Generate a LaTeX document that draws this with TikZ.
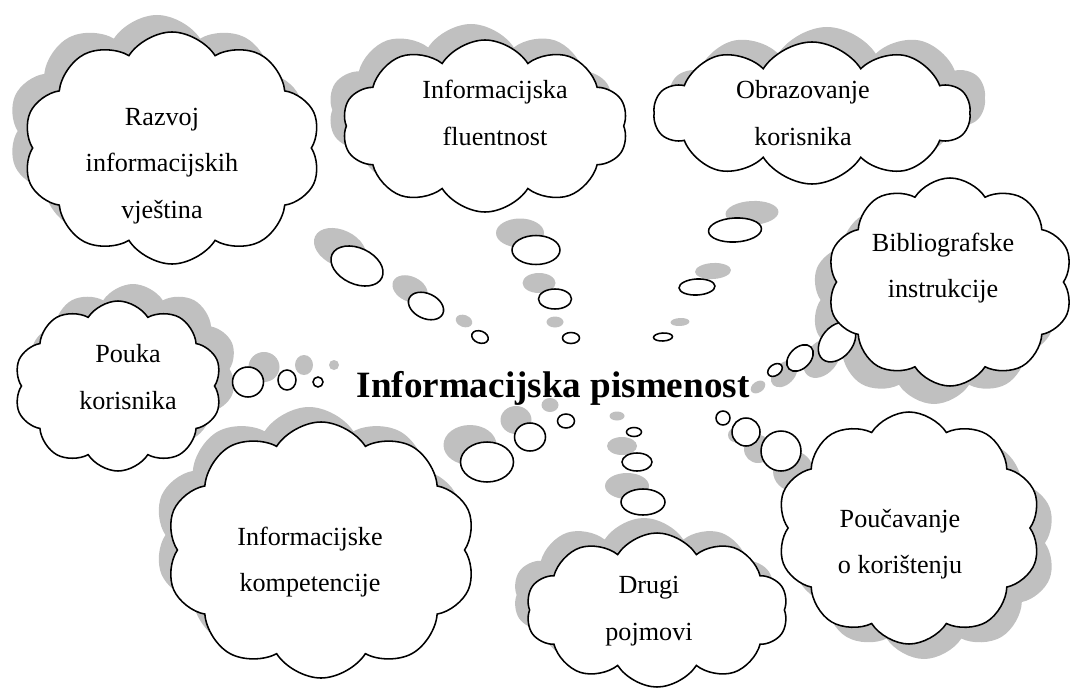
\documentclass[tikz,border=0pt]{standalone}
\usepackage{fontspec}
\setmainfont{Liberation Serif}
\usetikzlibrary{shapes,positioning}
\definecolor{shadegray}{RGB}{192,192,192}
\tikzset{
  thought/.style={cloud, cloud puffs=10, cloud puff arc=115, cloud ignores aspect,
    draw=black, line width=1.1pt, fill=white, inner sep=0pt},
  thoughtshade/.style={cloud, cloud puffs=10, cloud puff arc=115, cloud ignores aspect,
    fill=shadegray, inner sep=0pt},
  thoughttext/.style={align=center, inner sep=0pt, font=\fontsize{18.6}{33}\selectfont},
  puff/.style={ellipse, draw=black, line width=1.1pt, fill=white, inner sep=0pt},
  puffshade/.style={ellipse, fill=shadegray, inner sep=0pt}
}
% bubbles: x/y/width/height/rotation/shadow dx/shadow dy (pixels)
\def\puffs{357/266/55/36/-25/-17/-18, 426/306/37/25/-25/-16/-17, 480/337/17/12/-20/-16/-16,
  536/250/48/29/0/-16/-17, 555/299/33/20/0/-16/-16, 571/338/17/11/0/-16/-16,
  735/230/53/24/3/17/-17, 697/287/36/16/3/16/-16, 663/337/19/8/3/17/-15,
  775/370/16/11/35/-17/17, 800/358/31/21/45/-16/16, 837/342/45/31/50/-15/16,
  248/382/31/30/0/16/-15, 287/380/18/20/0/17/-15, 318/382/10/10/0/16/-17,
  566/421/17/14/0/-16/-16, 530/437/31/28/0/-14/-17, 487/462/53/40/0/-17/-17,
  634/432/15/9/0/-17/-16, 637/462/30/18/0/-15/-16, 643/502/44/26/0/-16/-16,
  723/418/14/14/0/12/17, 746/432/28/28/0/12/17, 781/451/40/40/0/12/20}
\begin{document}
\begin{tikzpicture}[x=0.25mm,y=-0.25mm]
    \useasboundingbox (0,0) rectangle (1072,688);

    % Shadows of the clouds
    \node[thoughtshade, minimum width=74.5mm, minimum height=58mm] (razvoj-sh) at (157,131) {};
    \node[thoughtshade, minimum width=71.5mm, minimum height=43mm] (fluent-sh) at (471,110) {};
    \node[thoughtshade, minimum width=79mm, minimum height=35.5mm] (obraz-sh) at (827,98) {};
    \node[thoughtshade, minimum width=61.5mm, minimum height=52mm] (biblio-sh) at (934,300) {};
    \node[thoughtshade, minimum width=52mm, minimum height=42.5mm] (pouka-sh) at (133,369) {};
    \node[thoughtshade, minimum width=77.5mm, minimum height=64mm] (kompet-sh) at (309,535) {};
    \node[thoughtshade, minimum width=65.5mm, minimum height=38.5mm] (drugi-sh) at (644,595) {};
    \node[thoughtshade, minimum width=66mm, minimum height=58mm] (poucav-sh) at (924,543) {};

    % Shadows of the bubbles
    \foreach \x/\y/\w/\h/\r/\dx/\dy [count=\i] in \puffs
        \node[puffshade, minimum width=\w*0.25mm, minimum height=\h*0.25mm, rotate=\r]
            (puff\i-sh) at ({\x+(\dx)},{\y+(\dy)}) {};

    % Bubbles
    \foreach \x/\y/\w/\h/\r/\dx/\dy [count=\i] in \puffs
        \node[puff, minimum width=\w*0.25mm, minimum height=\h*0.25mm, rotate=\r]
            (puff\i) at (\x,\y) {};

    % Clouds
    \node[thought, minimum width=74.5mm, minimum height=58mm] (razvoj) at (172,148) {};
    \node[thought, minimum width=71.5mm, minimum height=43mm] (fluent) at (485,126) {};
    \node[thought, minimum width=79mm, minimum height=35.5mm] (obraz) at (812,113) {};
    \node[thought, minimum width=61.5mm, minimum height=52mm] (biblio) at (950,282) {};
    \node[thought, minimum width=52mm, minimum height=42.5mm] (pouka) at (118,386) {};
    \node[thought, minimum width=77.5mm, minimum height=64mm] (kompet) at (321,550) {};
    \node[thought, minimum width=65.5mm, minimum height=38.5mm] (drugi) at (657,610) {};
    \node[thought, minimum width=66mm, minimum height=58mm] (poucav) at (909,528) {};

    % Texts in the clouds
    \node[thoughttext] (razvoj-txt) at (162,166) {Razvoj\\informacijskih\\vještina};
    \node[thoughttext] (fluent-txt) at (495,113) {Informacijska\\fluentnost};
    \node[thoughttext] (obraz-txt) at (803,113) {Obrazovanje\\korisnika};
    \node[thoughttext] (biblio-txt) at (943,268) {Bibliografske\\instrukcije};
    \node[thoughttext] (pouka-txt) at (128,377) {Pouka\\korisnika};
    \node[thoughttext] (kompet-txt) at (310,562) {Informacijske\\kompetencije};
    \node[thoughttext] (drugi-txt) at (649,611) {Drugi\\pojmovi};
    \node[thoughttext] (poucav-txt) at (900,544) {Poučavanje\\o korištenju};

    % Central term
    \node[font=\fontsize{26.4}{30}\selectfont\bfseries] (pismenost) at (553,388)
        {Informacijska pismenost};
\end{tikzpicture}
\end{document}
